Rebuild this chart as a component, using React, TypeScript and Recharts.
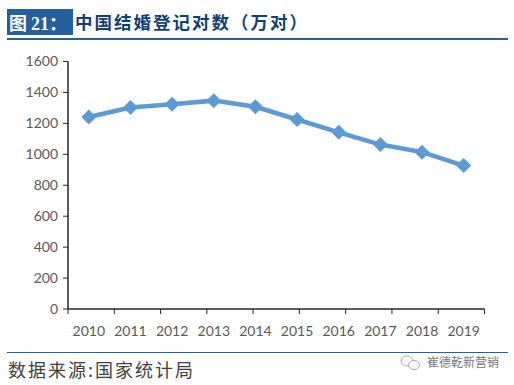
import React from "react";
import { LineChart, Line, XAxis, YAxis } from "recharts";

const years = ["2010", "2011", "2012", "2013", "2014", "2015", "2016", "2017", "2018", "2019"];
const marriages = [1241, 1302, 1324, 1347, 1307, 1225, 1142, 1063, 1014, 927];
const yTicks = [0, 200, 400, 600, 800, 1000, 1200, 1400, 1600];
const yearEdges = [0, 1, 2, 3, 4, 5, 6, 7, 8, 9, 10];

const data = years.map((year, i) => ({ year, value: marriages[i] }));

const BLUE = "#5b9bd5";
const NAVY = "#265f9d";
const TICK = { fill: "#595959", fontSize: 14, fontFamily: "Lato, 'Open Sans', sans-serif" };
const CJK = "'Noto Sans CJK SC', sans-serif";

const Diamond = ({ cx, cy, index }: any) => (
  <path
    key={index}
    d={`M${cx} ${cy - 7.5}L${cx + 7.5} ${cy}L${cx} ${cy + 7.5}L${cx - 7.5} ${cy}Z`}
    fill={BLUE}
  />
);

export default function App() {
  return (
    <div style={{ position: "absolute", left: 0, top: 0, width: 514, height: 385, background: "#fff", overflow: "hidden" }}>
      <div style={{ position: "absolute", left: 7, top: 9, width: 66, height: 26, background: NAVY, color: "#fff", fontFamily: CJK, fontWeight: 700, fontSize: 18, lineHeight: "26px", paddingLeft: 2, boxSizing: "border-box", whiteSpace: "nowrap" }}>
        图 <span style={{ fontFamily: "'Liberation Serif', serif" }}>21</span>：
      </div>
      <div style={{ position: "absolute", left: 75, top: 9, color: "#123f7a", fontFamily: CJK, fontWeight: 700, fontSize: 17.5, lineHeight: "26px", letterSpacing: 2, whiteSpace: "nowrap" }}>
        中国结婚登记对数（万对）
      </div>
      <div style={{ position: "absolute", left: 7, top: 38, width: 501, height: 2, background: NAVY }} />

      <LineChart
        width={514}
        height={385}
        data={data}
        margin={{ top: 61.5, right: 29.5, bottom: 46, left: 28 }}
        style={{ position: "absolute", left: 0, top: 0 }}
      >
        {/* bare axis only carries the tick marks between the years */}
        <XAxis
          xAxisId="edges"
          type="number"
          domain={[0, 10]}
          ticks={yearEdges}
          interval={0}
          height={1}
          tickFormatter={() => ""}
          tickLine={{ stroke: "#262626", strokeWidth: 1 }}
          axisLine={{ stroke: "#262626", strokeWidth: 1.5 }}
          tickSize={5}
        />
        <XAxis
          xAxisId="labels"
          dataKey="year"
          scale="band"
          height={29}
          interval={0}
          tick={TICK}
          tickLine={false}
          axisLine={false}
          tickMargin={10}
        />
        <YAxis
          width={40}
          domain={[0, 1600]}
          ticks={yTicks}
          interval={0}
          tick={TICK}
          tickLine={{ stroke: "#262626", strokeWidth: 1 }}
          axisLine={{ stroke: "#262626", strokeWidth: 1.5 }}
          tickSize={5}
          tickMargin={5}
        />
        <Line
          xAxisId="labels"
          type="linear"
          dataKey="value"
          stroke={BLUE}
          strokeWidth={4.5}
          dot={Diamond}
          activeDot={false}
          isAnimationActive={false}
        />
      </LineChart>

      <div style={{ position: "absolute", left: 7, top: 352, width: 501, height: 1, background: NAVY }} />
      <div style={{ position: "absolute", left: 8, top: 357, color: "#404040", fontFamily: CJK, fontSize: 18, lineHeight: "24px", letterSpacing: 2, whiteSpace: "nowrap" }}>
        数据来源:国家统计局
      </div>
      <svg style={{ position: "absolute", left: 400, top: 354 }} width={22} height={18}>
        <ellipse cx={7} cy={7} rx={6} ry={5} fill="none" stroke="#aaa" />
        <ellipse cx={14} cy={11} rx={5.5} ry={4.5} fill="#fff" stroke="#aaa" />
      </svg>
      <div style={{ position: "absolute", left: 427, top: 353, color: "#777", fontFamily: CJK, fontSize: 12, lineHeight: "18px", whiteSpace: "nowrap" }}>
        崔德乾新营销
      </div>
    </div>
  );
}
